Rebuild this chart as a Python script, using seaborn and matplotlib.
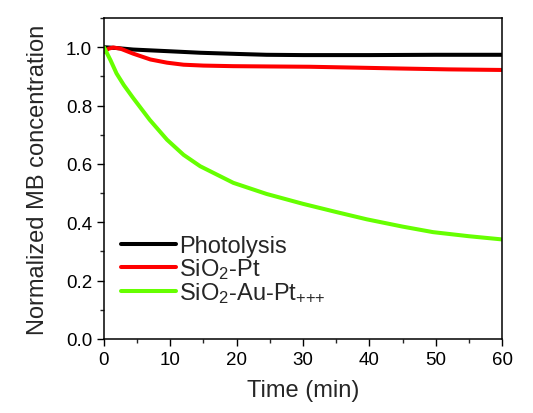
import numpy as np
import pandas as pd
import matplotlib
matplotlib.use("Agg")
import matplotlib.pyplot as plt
import seaborn as sns
from matplotlib.ticker import MultipleLocator

# values
t_photo = [0, 2, 4.4, 10, 14.5, 20, 24.5, 30, 40, 50, 60]
c_photo = [1.0, 0.997, 0.992, 0.986, 0.981, 0.977, 0.974, 0.973, 0.973, 0.974, 0.974]

t_pt = [0, 0.7, 1.4, 2.5, 4.4, 7, 9.5, 12, 15, 19.5, 25, 31, 38, 44.6, 52, 60]
c_pt = [0.984, 0.995, 0.999, 0.995, 0.978, 0.958, 0.947, 0.940, 0.937, 0.935, 0.934, 0.933, 0.930, 0.927, 0.924, 0.922]

t_aupt = [0, 1, 1.9, 3, 4.4, 6.9, 9.5, 12, 14.5, 19.5, 24.5, 30, 35, 39.6, 45, 49.6, 55, 60]
c_aupt = [1.0, 0.955, 0.91, 0.87, 0.826, 0.751, 0.683, 0.631, 0.592, 0.535, 0.497, 0.463, 0.435, 0.41, 0.385, 0.366, 0.352, 0.341]

labels = ["Photolysis", "SiO$_2$-Pt", "SiO$_2$-Au-Pt$_{{+}{+}{+}}$"]
colors = ["#000000", "#ff0000", "#66ff00"]

df = pd.concat([
    pd.DataFrame({"time": t_photo, "conc": c_photo, "sample": labels[0]}),
    pd.DataFrame({"time": t_pt, "conc": c_pt, "sample": labels[1]}),
    pd.DataFrame({"time": t_aupt, "conc": c_aupt, "sample": labels[2]}),
])

sns.set_style("ticks")
plt.rcParams['font.family'] = ['Liberation Sans', 'DejaVu Sans']
plt.rcParams['mathtext.fontset'] = 'custom'
plt.rcParams['mathtext.rm'] = 'Liberation Sans'
plt.rcParams['mathtext.it'] = 'Liberation Sans'

fig = plt.figure(figsize=(5.33, 4.14), dpi=100)
ax = fig.add_axes([0.195, 0.179, 0.747, 0.775])

sns.lineplot(data=df, x="time", y="conc", hue="sample", palette=colors,
             linewidth=2.9, ax=ax, sort=False)

ax.set_xlim(0, 60)
ax.set_ylim(0, 1.1)
ax.xaxis.set_major_locator(MultipleLocator(10))
ax.xaxis.set_minor_locator(MultipleLocator(5))
ax.yaxis.set_major_locator(MultipleLocator(0.2))
ax.yaxis.set_minor_locator(MultipleLocator(0.1))
ax.yaxis.set_major_formatter(matplotlib.ticker.FormatStrFormatter('%.1f'))
ax.tick_params(which='major', direction='out', length=5, width=1, labelsize=13.5,
               top=False, right=False, colors='black')
ax.tick_params(which='minor', direction='out', length=3, width=1, top=False, right=False)
for s in ax.spines.values():
    s.set_visible(True)
    s.set_linewidth(1.1)
    s.set_color('black')

ax.set_xlabel("Time (min)", fontsize=17, labelpad=8)
ax.set_ylabel("Normalized MB concentration", fontsize=17, labelpad=12)

ax.legend(loc='lower left', bbox_to_anchor=(-0.01, 0.04), frameon=False,
          fontsize=17, labelspacing=-0.05, handlelength=2.3, handletextpad=0.15)

fig.savefig("out.png", dpi=100)
